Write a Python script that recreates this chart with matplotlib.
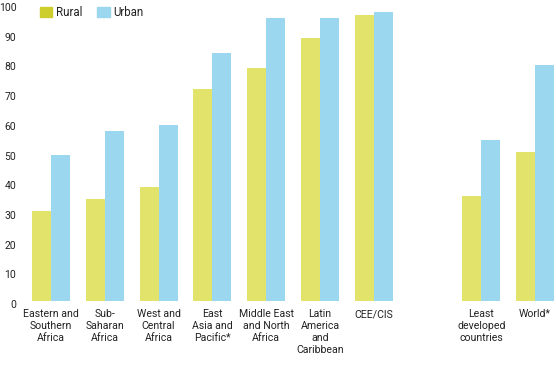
import matplotlib
matplotlib.use('Agg')
import matplotlib.pyplot as plt
import matplotlib.transforms as mtransforms
from matplotlib.patches import Patch
import numpy as np

# ── Data ─────────────────────────────────────────────────────
regions = ['Eastern and\nSouthern\nAfrica', 'Sub-\nSaharan\nAfrica', 'West and\nCentral\nAfrica',
           'East\nAsia and\nPacific*', 'Middle East\nand North\nAfrica',
           'Latin\nAmerica\nand\nCaribbean', 'CEE/CIS', 'Least\ndeveloped\ncountries', 'World*']
positions = [0, 1, 2, 3, 4, 5, 6, 8, 9]
rural = [30.2, 34.3, 38.3, 71.3, 78.4, 88.4, 96.4, 35.4, 50.2]
urban = [49.2, 57.2, 59.2, 83.4, 95.4, 95.4, 97.4, 54.2, 79.4]
yticks = [0, 10, 20, 30, 40, 50, 60, 70, 80, 90, 100]

# ── Style ────────────────────────────────────────────────────
RURAL = '#E1E36A'
RURAL_KEY = '#CDCE2C'
URBAN = '#9BD7EF'
TEXT = '#222222'

plt.rcParams['font.family'] = ['Roboto', 'DejaVu Sans']

W, H = 556, 368
fig = plt.figure(figsize=(W / 100, H / 100), dpi=100)
ax = fig.add_axes([24 / W, (H - 301) / H, (W - 24) / W, 297 / H])

x = np.array(positions, dtype=float)
bw = 0.355
ax.bar(x - bw / 2, rural, width=bw, color=RURAL, edgecolor='none')
ax.bar(x + bw / 2, urban, width=bw, color=URBAN, edgecolor='none')

ax.set_xlim(-0.502, 9.387)
ax.set_ylim(0, 100)
for s in ax.spines.values():
    s.set_visible(False)
ax.set_yticks(yticks)
ax.set_yticklabels([str(v) for v in yticks], color=TEXT, fontsize=7.5)
ax.tick_params(axis='y', length=0, pad=5.5)
ax.set_xticks(x)
ax.set_xticklabels(regions, color=TEXT, fontsize=7.6, linespacing=1.25)
ax.tick_params(axis='x', length=0, pad=6)

shift = mtransforms.ScaledTranslation(0, -3 / 100, fig.dpi_scale_trans)
for lbl in ax.get_yticklabels():
    lbl.set_transform(lbl.get_transform() + shift)

handles = [Patch(color=RURAL_KEY, label='Rural'), Patch(color=URBAN, label='Urban')]
fig.legend(handles=handles, loc='upper left', bbox_to_anchor=(34 / W, 1.0), ncol=2,
           frameon=False, handlelength=1.1, handleheight=0.9, handletextpad=0.3,
           columnspacing=1.3, borderaxespad=0.1, fontsize=8.3)
for t in fig.legends[0].get_texts():
    t.set_color(TEXT)

fig.savefig('out.png', dpi=100, facecolor='white')
